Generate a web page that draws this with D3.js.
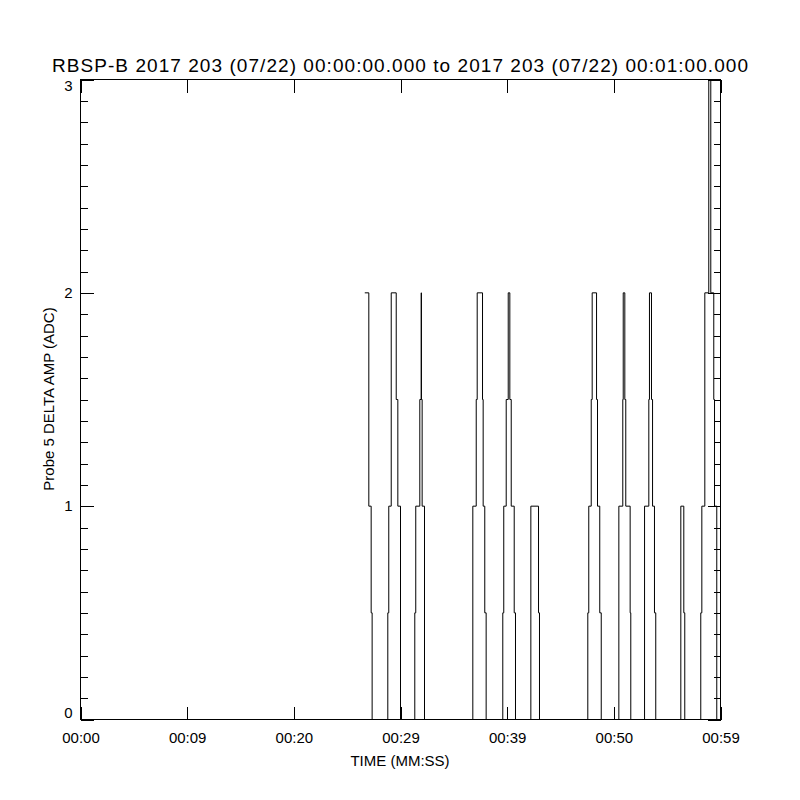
<!DOCTYPE html>
<html>
<head>
<meta charset="utf-8">
<script src="https://cdn.jsdelivr.net/npm/d3@7"></script>
<style>
  html, body { margin: 0; padding: 0; background: #fff; }
  text { font-family: "Liberation Sans", Arial, sans-serif; fill: #000; }
</style>
</head>
<body>
<svg id="chart" width="800" height="800"></svg>
<script>
// ---- data (time in seconds from 00:00:00, value = Probe 5 DELTA AMP in ADC) ----
const times = [
  26.65, 27.03, 27.25, 27.34,
  28.81, 28.90, 29.13, 29.60, 29.75, 30.00,
  31.34, 31.43, 31.81, 31.94, 31.96, 32.03, 32.25,
  36.78, 37.10, 37.19, 37.69, 37.75, 37.90, 38.03,
  39.59, 39.68, 39.91, 40.10, 40.25, 40.38, 40.66, 40.78,
  42.22, 42.94, 43.03,
  47.56, 47.65, 47.88, 47.97, 48.38, 48.47, 48.68, 48.82,
  50.47, 50.84, 50.88, 51.03, 51.12, 51.53, 51.59,
  52.88, 53.28, 53.34, 53.53, 53.63, 53.81, 53.93,
  56.28, 56.56, 56.65,
  58.15, 58.25, 58.53, 58.90, 59.09, 59.37, 59.44, 59.65, 60.00
];
const values = [
  2, 1, 0.5, 0,
  0.5, 1, 2, 1.5, 1, 0,
  0.5, 1, 1.5, 2, 1.5, 1, 0,
  1, 1.5, 2, 1.5, 1, 0.5, 0,
  0.5, 1, 1.5, 2, 1.5, 1, 0.5, 0,
  1, 0.5, 0,
  0.5, 1, 1.5, 2, 1.5, 1, 0.5, 0,
  1, 1.5, 2, 1.5, 1, 0.5, 0,
  1, 1.5, 2, 1.5, 1, 0.5, 0,
  1, 0.5, 0,
  0.5, 1, 2, 3, 2, 1.5, 1, 0, 0
];
const xTickValues = [0, 10, 20, 30, 40, 50, 60];
const xTickLabels = ["00:00", "00:09", "00:20", "00:29", "00:39", "00:50", "00:59"];
const yMajorTicks = [0, 1, 2, 3];
const yMinorTicks = d3.range(0, 30).map(i => i / 10).filter(v => !Number.isInteger(v));
const titleText = "RBSP-B 2017 203 (07/22) 00:00:00.000 to 2017 203 (07/22) 00:01:00.000";
const xTitle = "TIME (MM:SS)";
const yTitle = "Probe 5 DELTA AMP (ADC)";

// ---- layout ----
const svg = d3.select("#chart");
const pLeft = 80, pRight = 720, pTop = 79, pBottom = 719;
const x = d3.scaleLinear().domain([0, 60]).range([pLeft, pRight]);
const y = d3.scaleLinear().domain([0, 3]).range([pBottom, pTop]);

svg.append("rect").attr("width", 800).attr("height", 800).attr("fill", "#fff");

// data line (histogram-style steps)
const pts = times.map((t, i) => [t, values[i]]);
const line = d3.line().x(d => x(d[0])).y(d => y(d[1])).curve(d3.curveStepAfter);
svg.append("path")
  .datum(pts)
  .attr("d", line)
  .attr("fill", "none")
  .attr("stroke", "#000")
  .attr("stroke-width", 1)
  .attr("transform", "translate(0.5,0.5)");

// frame
svg.append("rect")
  .attr("x", pLeft + 0.5).attr("y", pTop + 0.5)
  .attr("width", pRight - pLeft).attr("height", pBottom - pTop)
  .attr("fill", "none").attr("stroke", "#000").attr("stroke-width", 1);

function styleAxis(g) {
  g.select(".domain").remove();
  g.selectAll(".tick line").attr("stroke", "#000").attr("shape-rendering", "crispEdges");
  g.selectAll("text").attr("font-family", "Liberation Sans, Arial, sans-serif").attr("font-size", 15).attr("fill", "#000");
}

// bottom axis
const gB = svg.append("g").attr("transform", `translate(0.5,${pBottom + 0.5})`)
  .call(d3.axisBottom(x).tickValues(xTickValues).tickSize(-13).tickSizeOuter(0).tickPadding(13)
    .tickFormat((d, i) => xTickLabels[i]));
styleAxis(gB);

// top axis
const gT = svg.append("g").attr("transform", `translate(0.5,${pTop + 0.5})`)
  .call(d3.axisTop(x).tickValues(xTickValues).tickSize(-13).tickSizeOuter(0).tickFormat(""));
styleAxis(gT);

// left axis
const gL = svg.append("g").attr("transform", `translate(${pLeft + 0.5},0.5)`)
  .call(d3.axisLeft(y).tickValues(yMajorTicks).tickSize(-13).tickSizeOuter(0).tickPadding(8)
    .tickFormat(d3.format("d")));
styleAxis(gL);
gL.selectAll(".tick text").filter(d => d === 3).attr("dy", "0.72em").attr("y", 0);
gL.selectAll(".tick text").filter(d => d === 0).attr("dy", "-0.12em");
const gLm = svg.append("g").attr("transform", `translate(${pLeft + 0.5},0.5)`)
  .call(d3.axisLeft(y).tickValues(yMinorTicks).tickSize(-7).tickSizeOuter(0).tickFormat(""));
styleAxis(gLm);

// right axis
const gR = svg.append("g").attr("transform", `translate(${pRight + 0.5},0.5)`)
  .call(d3.axisRight(y).tickValues(yMajorTicks).tickSize(-13).tickSizeOuter(0).tickFormat(""));
styleAxis(gR);
const gRm = svg.append("g").attr("transform", `translate(${pRight + 0.5},0.5)`)
  .call(d3.axisRight(y).tickValues(yMinorTicks).tickSize(-7).tickSizeOuter(0).tickFormat(""));
styleAxis(gRm);

// titles
svg.append("text").attr("x", 400).attr("y", 72).attr("text-anchor", "middle")
  .attr("font-size", 19).attr("textLength", 696).attr("lengthAdjust", "spacing")
  .text(titleText);
svg.append("text").attr("x", 400).attr("y", 766).attr("text-anchor", "middle")
  .attr("font-size", 15).text(xTitle);
svg.append("text").attr("transform", "translate(54,399) rotate(-90)").attr("text-anchor", "middle")
  .attr("font-size", 15).text(yTitle);
</script>
</body>
</html>
